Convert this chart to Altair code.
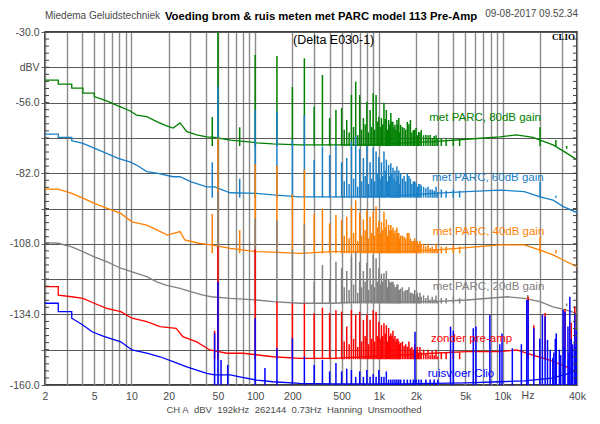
import altair as alt
import pandas as pd

# ---------------- data ----------------
series_order = ["80dB", "60dB", "40dB", "20dB", "zonder", "clio"]
series_colors = ["#008000", "#1a80c8", "#ff8000", "#808080", "#ff0000", "#0000ff"]

floor_80 = [(2, -47.7), (2.56, -47.7), (2.56, -49.2), (3.29, -49.2), (3.29, -50.7), (4.05, -50.7), (4.05, -52.5),
            (5.0, -52.5), (5.0, -53.8), (6.3, -55.4), (7.8, -57.2), (9.7, -59.0), (11, -60.6), (13.3, -61.2),
            (16, -63.0), (19, -64.5), (21.7, -65.4), (24.7, -63.5), (28, -66.7), (33.7, -67.9), (40.6, -68.6),
            (47, -68.8), (63, -69.8), (103, -70.8), (139, -71.2), (230, -71.6), (425, -71.6), (800, -71.6),
            (1480, -70.9), (2740, -70.4), (5130, -69.5), (9530, -68.6), (13000, -67.9), (17600, -68.8),
            (20100, -69.8), (25600, -71.6), (33000, -74.6), (40000, -77.1)]
floor_60 = [(2, -67.6), (2.56, -67.6), (2.56, -68.8), (3.29, -68.8), (3.29, -70.0), (4.05, -71.0), (5.0, -72.8),
            (6.3, -74.7), (7.8, -76.5), (9.7, -77.8), (11, -79.0), (13.3, -81.4), (16, -82.0), (21.7, -83.3),
            (24.7, -83.3), (30, -85.1), (40.6, -87.0), (47, -87.0), (63, -89.2), (103, -89.4), (139, -90.0),
            (230, -90.7), (425, -90.7), (800, -90.7), (1480, -90.3), (2740, -89.4), (5130, -88.8), (9530, -88.2),
            (15000, -88.8), (20100, -90.7), (25600, -91.9), (31000, -94.3), (40000, -96.5)]
floor_40 = [(2, -87.9), (2.56, -87.9), (3.29, -89.4), (4.05, -91.2), (5.0, -93.1), (6.3, -94.9), (8.2, -96.8),
            (10.1, -99.9), (13.3, -101.1), (16, -102.9), (19.5, -104.8), (24.7, -103.5), (27, -106.6),
            (35, -107.8), (44, -108.4), (63, -109.7), (103, -110.9), (139, -111.1), (230, -111.5), (425, -110.9),
            (800, -110.9), (1480, -110.9), (2740, -110.3), (5130, -109.4), (9530, -108.4), (15000, -108.4),
            (20100, -110.3), (25600, -112.1), (33000, -114.6), (40000, -116.4)]
floor_20 = [(2, -107.6), (2.56, -107.8), (3.29, -109.1), (4.05, -110.9), (5.0, -112.8), (6.3, -114.6),
            (8.2, -117.0), (10.1, -118.3), (13.3, -120.1), (16, -122.0), (19, -123.2), (24.7, -124.4),
            (30, -125.6), (38, -126.9), (44, -127.5), (63, -128.1), (103, -128.7), (139, -129.3), (230, -129.9),
            (425, -129.9), (800, -129.3), (1480, -129.3), (2740, -129.3), (5130, -128.7), (11000, -127.5),
            (15000, -128.1), (20100, -129.3), (25600, -131.2), (33000, -132.4), (40000, -133.6)]
floor_zonder = [(2, -123.8), (2.56, -123.8), (2.56, -126.9), (3.29, -127.5), (4.05, -128.1), (5.0, -129.9),
                (6.3, -131.8), (8.2, -133.0), (10.1, -135.4), (13.3, -136.7), (17, -138.5), (23, -139.1),
                (26, -142.2), (33.7, -144.1), (43, -147.1), (59, -148.3), (80, -148.3), (139, -149.6),
                (230, -150.2), (425, -150.2), (800, -149.6), (1480, -149.0), (2740, -148.3), (5130, -147.7),
                (9530, -147.7), (13000, -147.1), (17600, -149.0), (24000, -150.8), (33000, -153.3), (40000, -155.7)]
floor_clio = [(2, -129.9), (2.56, -129.9), (2.56, -133.0), (3.29, -133.0), (3.29, -135.4), (4.05, -137.9),
              (4.8, -140.4), (5.9, -142.0), (8.2, -144.1), (10.1, -147.1), (13.3, -148.3), (17, -149.6),
              (21.7, -151.4), (28, -153.3), (33.7, -154.5), (40.6, -155.7), (47, -156.3), (63, -156.3),
              (75, -157.0), (103, -158.2), (139, -158.8), (230, -159.4), (425, -159.6), (1480, -159.6),
              (5130, -159.2), (9530, -158.8), (15000, -158.5), (25000, -157.5), (33000, -156.0), (40000, -154.0)]

harmonics = [50, 100, 150, 200, 250, 300, 350, 400, 450, 500, 550, 600, 650, 700, 750, 800, 850, 900, 950, 1000,
             1050, 1100, 1150, 1200, 1250, 1300, 1350, 1400, 1450, 1500, 1600, 1700, 1800, 1900, 2000, 2100, 2200,
             2400, 2600, 2800, 3000]
peaks_80 = [-28, -38.5, -38.8, -50.3, -39.7, -57.5, -45.8, -61.7, -58.7, -58.0, -62.4, -53.2, -48.3, -53.2, -61.7,
            -55.7, -58.7, -52.6, -53.2, -61.2, -61.7, -56.1, -58.7, -62.4, -59.8, -63.1, -64.2, -62.4, -61.7, -64.2,
            -65.4, -63.1, -62.4, -66.1, -65.4, -66.8, -66.1, -67.9, -67.9, -68.3, -69.0]
peaks_60 = [-50.0, -58.7, -59.3, -69.8, -60.6, -77.1, -72.2, -75.3, -71.6, -78.0, -76.4, -70.4, -68.5, -73.0, -76.4,
            -72.0, -78.0, -72.5, -74.0, -76.0, -78.0, -74.0, -77.0, -79.0, -78.3, -80.0, -81.0, -79.5, -81.0, -82.0,
            -83.0, -82.0, -84.0, -85.0, -85.6, -86.0, -86.5, -87.5, -88.0, -88.5, -89.0]
peaks_40 = [-69.0, -78.7, -79.3, -89.8, -80.6, -97.0, -95.0, -100.5, -97.4, -99.2, -98.0, -94.3, -92.0, -96.5, -99.0,
            -95.6, -98.0, -96.0, -94.3, -99.5, -100.0, -96.2, -99.0, -101.0, -101.1, -102.0, -103.0, -102.0, -104.0,
            -105.0, -105.4, -104.0, -106.0, -107.0, -107.0, -108.0, -108.0, -109.0, -109.5, -110.0, -110.0]
peaks_20 = [-89.0, -98.7, -99.3, -110.0, -100.6, -122.0, -115.8, -121.3, -114.6, -117.0, -118.0, -112.8, -111.0,
            -114.6, -118.0, -115.0, -117.0, -112.1, -113.3, -117.0, -119.0, -118.8, -118.0, -121.0, -122.4, -122.0,
            -124.0, -123.0, -125.0, -124.5, -125.5, -125.0, -126.0, -126.5, -127.0, -127.5, -127.5, -128.0, -128.5,
            -128.5, -129.0]
peaks_zonder = [-109.0, -110.0, -129.3, -129.9, -129.9, -133.6, -131.5, -133.5, -132.5, -133.0, -138.5, -132.4,
                -134.0, -133.0, -136.0, -134.0, -136.0, -132.5, -133.0, -136.7, -138.0, -137.3, -138.0, -139.0,
                -141.0, -140.0, -142.0, -143.0, -144.0, -144.5, -145.5, -145.9, -146.5, -147.0, -147.0, -148.0,
                -148.0, -148.5, -149.0, -149.0, -149.5]
peaks_clio = [-122.0, -135.4, -146.5, -142.8, -149.6, -152.6, -150.8, -155.0, -151.9, -155.0, -154.0, -154.5,
              -157.0, -155.0, -157.0, -154.5, -157.0, -156.0, -157.0, -154.5, -157.0, -157.0, -155.0, -158.0,
              -158.0, -158.0, -158.0, -158.0, -158.0, -158.0, -158.0, -158.0, -158.0, -158.0, -158.0, -158.0,
              -158.0, -158.0, -158.0, -158.0, -158.0]

# smaller in-between spikes (the dense "hash" between harmonics)
comb_freqs = [525, 575, 625, 675, 725, 775, 825, 875, 925, 975, 1025, 1075, 1125, 1175, 1225, 1275, 1325, 1375,
              1425, 1475, 1550, 1650, 1750, 1850, 1950, 2050, 2150, 2300, 2500, 2700, 2900, 3200, 3500, 4000, 4500]
comb_80 = [-66, -67, -65, -68, -66, -64, -67, -65, -66, -63, -65, -64, -62, -66, -64, -63, -65, -66, -64, -67, -65,
           -66, -64, -67, -66, -68, -67, -68, -68, -69, -68, -69, -69.5, -69, -69.5]
comb_60 = [-85, -86, -84, -87, -85, -83, -86, -84, -85, -82, -84, -83, -81, -85, -83, -82, -84, -85, -83, -86, -84,
           -85, -83, -86, -85, -87, -86, -87, -87, -88, -87, -88, -88.5, -88, -88.5]
comb_40 = [-105, -106, -104, -107, -105, -103, -106, -104, -105, -102, -104, -103, -102, -105, -103, -103, -104,
           -105, -104, -106, -105, -106, -104, -107, -106, -107, -107, -108, -108, -109, -108, -109, -109, -108.5,
           -109]
comb_20 = [-124, -125, -123, -126, -124, -122, -125, -123, -124, -122, -123, -122, -121, -124, -122, -122, -123,
           -124, -123, -125, -124, -125, -124, -126, -125, -126, -126, -127, -127, -127.5, -127, -128, -128, -127.5,
           -128]
comb_zonder = [-144, -145, -143, -146, -144, -142, -145, -143, -144, -142, -143, -142, -141, -144, -142, -142, -143,
               -144, -143, -145, -144, -145, -144, -146, -145, -146, -146, -147, -147, -147.5, -147, -148, -148,
               -147.5, -148]
comb_clio = []

extra_80 = [(45, -61.3), (75, -65.1), (20100, -65.1), (27000, -69.8), (33000, -73.0)]
extra_60 = [(45, -78.0), (75, -84.0), (20100, -85.1), (27000, -90.3)]
extra_40 = [(45, -97.0), (75, -103.0), (20100, -105.4), (27000, -110.3)]
extra_20 = [(16000, -126.9), (27000, -130.0), (33000, -131.0)]
extra_zonder = [(47, -140.0), (16100, -127.5), (17900, -138.0), (22100, -133.5), (32000, -132.0),
                (35900, -137.0), (38400, -131.0)]
extra_clio = [(47, -140.9), (53, -150.8), (60, -152.6), (120, -153.7), (1960, -140.4), (3800, -138.5),
              (4000, -140.0), (5800, -139.1), (6100, -138.5), (7900, -134.2), (9500, -145.0), (9900, -141.0),
              (12000, -146.5), (14200, -145.0), (15700, -128.7), (16100, -128.7), (17900, -139.1), (20000, -143.0),
              (21000, -134.2), (22100, -134.8), (23100, -143.4), (24300, -147.0), (25500, -150.0), (26000, -148.0),
              (26700, -143.0), (27200, -141.0), (28800, -147.0), (29500, -149.0), (30900, -132.4), (31500, -146.0),
              (32000, -133.0), (33800, -138.5), (34500, -148.0), (35000, -127.5), (35900, -143.0), (36500, -147.0),
              (37000, -145.0), (38400, -133.6), (39000, -146.0), (39500, -140.0)]

spike_base = [-72.0, -91.0, -111.5, -130.0, -150.5, -160.0]

label_texts = ["met PARC, 80dB gain", "met PARC, 60dB gain", "met PARC, 40dB gain", "met PARC, 20dB gain",
               "zonder pre-amp", "ruisvloer Clio"]
label_freq = [2558, 2690, 2724, 2724, 2637, 2483]
label_db = [-61.8, -83.7, -103.8, -123.8, -143.1, -156.0]

y_major = [-30, -43, -56, -69, -82, -95, -108, -121, -134, -147, -160]
y_minor = [round(-30 - 2.6 * i, 1) for i in range(51)]
x_grid = [2, 3, 4, 5, 6, 7, 8, 9, 10, 20, 30, 40, 50, 60, 70, 80, 90, 100, 200, 300, 400, 500, 600, 700, 800,
          900, 1000, 2000, 3000, 4000, 5000, 6000, 7000, 8000, 9000, 10000, 20000, 30000, 40000]
x_labels = [2, 5, 10, 20, 50, 100, 200, 500, 1000, 2000, 5000, 10000, 40000]

floors = [floor_80, floor_60, floor_40, floor_20, floor_zonder, floor_clio]
peaks = [peaks_80, peaks_60, peaks_40, peaks_20, peaks_zonder, peaks_clio]
combs = [comb_80, comb_60, comb_40, comb_20, comb_zonder, comb_clio]
extras = [extra_80, extra_60, extra_40, extra_20, extra_zonder, extra_clio]

# ---------------- chart ----------------
FONT = "Liberation Sans"
NB = "\u00a0\u00a0"
xs = alt.Scale(type="log", domain=[2, 40000], nice=False)
ys = alt.Scale(domain=[-160, -30], nice=False, zero=False)

x_axis = alt.Axis(values=x_grid, grid=True, gridColor="#8c8c8c", gridWidth=1.4, ticks=False, domain=False,
                  title=None, labelOverlap=False, labelFlush=False, labelPadding=6, labelFont=FONT,
                  labelFontSize=10.5, labelColor="#4a4a4a",
                  labelExpr="indexof(" + str(x_labels) + ", datum.value) >= 0 ? "
                            "(datum.value >= 1000 ? (datum.value/1000) + 'k' : '' + datum.value) : ''")
y_axis = alt.Axis(values=y_major, grid=True, gridColor="#5a5a5a", gridWidth=1, ticks=True, tickSize=4,
                  tickColor="#5a5a5a", domain=False, title=None, labelFlush=False, labelOverlap=False,
                  labelPadding=2, labelFont=FONT, labelFontSize=10.5, labelColor="#4a4a4a",
                  labelExpr="datum.value == -43 ? 'dBV' : ((datum.value + 30) % 26 == 0 ? "
                            "'-' + format(abs(datum.value), '.1f') : '')")

X = alt.X("f:Q", scale=xs, axis=x_axis)
Y = alt.Y("db:Q", scale=ys, axis=y_axis)

layers = []
for s, col, fl, pk, cb, ex, b in zip(series_order, series_colors, floors, peaks, combs, extras, spike_base):
    sp = pd.DataFrame({"f": harmonics + comb_freqs[:len(cb)] + [e[0] for e in ex],
                       "db": pk + cb + [e[1] for e in ex]})
    sp["base"] = b
    fd = pd.DataFrame({"f": [p[0] for p in fl], "db": [p[1] for p in fl]})
    fd["i"] = range(len(fd))
    layers.append(alt.Chart(sp).mark_rule(color=col, strokeWidth=1.5, clip=True).encode(
        x=X, y=Y, y2="base:Q"))
    layers.append(alt.Chart(fd).mark_line(color=col, strokeWidth=1.3, clip=True).encode(
        x=X, y=Y, order="i:Q"))

ticks_df = pd.DataFrame({"db": y_minor})
layers.append(alt.Chart(ticks_df).mark_rule(color="#404040").encode(
    y=Y, x=alt.value(0), x2=alt.value(4)))
layers.append(alt.Chart(ticks_df).mark_rule(color="#404040").encode(
    y=Y, x=alt.value(528), x2=alt.value(532)))

lab = pd.DataFrame({"f": label_freq, "db": label_db, "t": label_texts, "c": series_colors})
layers.append(alt.Chart(lab).mark_text(align="left", baseline="middle", font=FONT, fontSize=11.5).encode(
    x=X, y=Y, text="t:N", color=alt.Color("c:N", scale=None)))


def txt(s, x, y, align="center", size=10.5, color="#4a4a4a", weight="normal", font=FONT):
    return alt.Chart(pd.DataFrame({"t": [s]})).mark_text(
        align=align, baseline="middle", fontSize=size, color=color, fontWeight=weight, font=font
    ).encode(text="t:N", x=alt.value(x), y=alt.value(y))


bottom_line = NB.join(["CH A", "dBV", "192kHz", "262144", "0.73Hz", "Hanning", "Unsmoothed"])

layers += [
    txt("Voeding brom & ruis meten met PARC model 113 Pre-Amp", 276, -15, size=11.3, color="#000000",
        weight="bold"),
    txt("Miedema Geluidstechniek", 0, -16, align="left", size=10),
    txt("09-08-2017 09.52.34", 533, -18, align="right", size=10),
    txt("(Delta E030-1)", 248, 8, align="left", size=12.5, color="#000000"),
    txt("CLIO", 530, 5, align="right", size=9, color="#000000", weight="bold", font="Liberation Serif"),
    txt("Hz", 483, 364, size=10.5),
    txt(bottom_line, 249, 378, size=9.5),
]

chart = alt.layer(*layers).properties(
    width=532, height=353,
    padding={"left": 45, "top": 32, "right": 23, "bottom": 39},
    autosize="none",
    background="white",
).configure_view(stroke="#000000", strokeWidth=1.5)

chart.save("out.html", embed_options={"renderer": "svg", "actions": False})
